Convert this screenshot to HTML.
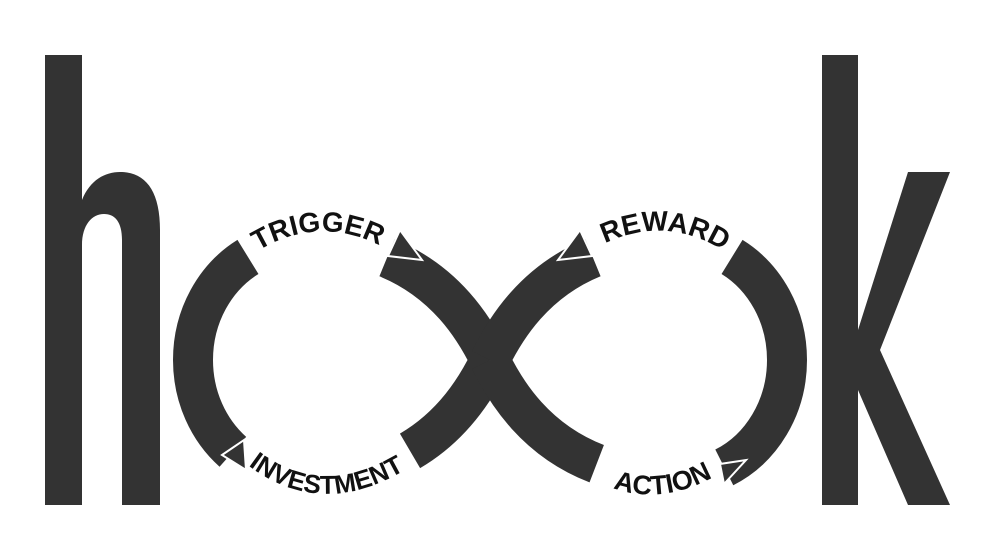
<!DOCTYPE html>
<html><head><meta charset="utf-8"><style>
html,body{margin:0;padding:0;background:#fff;}
svg{display:block;}
text{font-family:"Liberation Sans",sans-serif;font-weight:bold;fill:#111;}
</style></head><body>
<svg width="996" height="560" viewBox="0 0 996 560" xmlns="http://www.w3.org/2000/svg">
<rect width="996" height="560" fill="#fff"/>
<path fill="#333" d="M45,55 H82 V200 C90,180 105,172 120,172 C145,172 160,190 160,230 V505 H122 V240 C122,222 115,214 104,214 C92,214 82,225 82,245 V505 H45 Z"/>
<path fill="#333" d="M822,55 H858 V330 L908,172 H950 L880,350 L950,505 H908 L858,390 V505 H822 Z"/>
<g fill="none" stroke="#333" stroke-width="40">
<path pathLength="836" stroke-dasharray="150 145 227 190 124" d="M490,360 C468,315 420,242 300,242 C241,242 193,295 193,360 C193,425 241,478 300,478 C420,478 468,405 490,360 Z"/>
<path pathLength="836" stroke-dasharray="150 145 255 132 154" d="M490,360 C512,315 560,242 680,242 C739,242 787,295 787,360 C787,425 739,478 680,478 C560,478 512,405 490,360 Z"/>
</g>
<g fill="#333" stroke="#fff" stroke-width="2">
<polygon points="400,230 388,256 422,260"/>
<polygon points="580,230 592,256 558,260"/>
<polygon points="222,455 244,440 246,470"/>
<polygon points="724,484 746,460 720,464"/>
</g>
<defs>
<path id="p1" d="M250,256 Q318,210 388,250"/>
<path id="p2" d="M596,248 Q665,210 732,256"/>
<path id="p3" d="M230,450 Q318,534 425,457"/>
<path id="p4" d="M603,484 Q660,510 722,472"/>
</defs>
<text font-size="28"><textPath href="#p1" startOffset="50%" text-anchor="middle">TRIGGER</textPath></text>
<text font-size="28"><textPath href="#p2" startOffset="50%" text-anchor="middle">REWARD</textPath></text>
<text font-size="26"><textPath href="#p3" startOffset="50%" text-anchor="middle">INVESTMENT</textPath></text>
<text font-size="27"><textPath href="#p4" startOffset="50%" text-anchor="middle">ACTION</textPath></text>
</svg>
</body></html>
